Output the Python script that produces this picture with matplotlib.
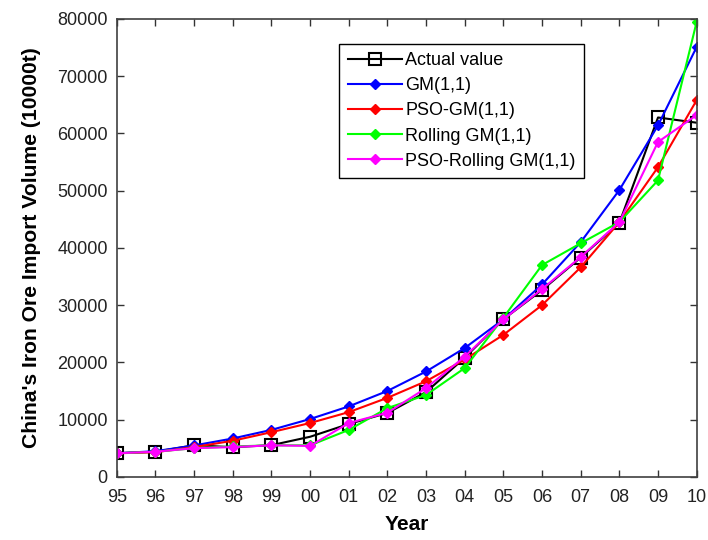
import matplotlib
matplotlib.use("Agg")
import matplotlib.pyplot as plt

plt.rcParams['font.family'] = ['Liberation Sans', 'DejaVu Sans']

years = ['95', '96', '97', '98', '99', '00', '01', '02', '03', '04',
         '05', '06', '07', '08', '09', '10']

actual = [4115, 4387, 5511, 5177, 5527, 6997, 9230, 11149, 14813, 20808,
          27526, 32630, 38309, 44356, 62778, 61863]
gm = [4115, 4480, 5480, 6700, 8200, 10100, 12300, 15000, 18400, 22500,
      27500, 33600, 41000, 50100, 61400, 75100]
pso_gm = [4115, 4300, 5200, 6300, 7800, 9400, 11300, 13800, 16700, 20500,
          24800, 30000, 36600, 44500, 54100, 65800]
rolling_gm = [4115, 4387, 5000, 5300, 5500, 5500, 8200, 12000, 14300, 19000,
              27800, 37000, 40800, 44500, 51800, 79500]
pso_rolling_gm = [4115, 4387, 5000, 5200, 5500, 5400, 9400, 11200, 15500, 21000,
                  27500, 32800, 38400, 44500, 58500, 63200]

x = list(range(len(years)))

fig = plt.figure(figsize=(7.08, 5.40), dpi=100)
ax = fig.add_axes([0.165, 0.117, 0.819, 0.848])

ax.plot(x, actual, color='black', lw=1.5, marker='s', ms=8.5,
        mfc='none', mec='black', mew=1.5, label='Actual value')
ax.plot(x, gm, color='#0000ff', lw=1.5, marker='D', ms=5,
        mfc='#0000ff', mec='#0000ff', label='GM(1,1)')
ax.plot(x, pso_gm, color='#ff0000', lw=1.5, marker='D', ms=5,
        mfc='#ff0000', mec='#ff0000', label='PSO-GM(1,1)')
ax.plot(x, rolling_gm, color='#00ff00', lw=1.5, marker='D', ms=5,
        mfc='#00ff00', mec='#00ff00', label='Rolling GM(1,1)')
ax.plot(x, pso_rolling_gm, color='#ff00ff', lw=1.5, marker='D', ms=5,
        mfc='#ff00ff', mec='#ff00ff', label='PSO-Rolling GM(1,1)')

ax.set_xlim(0, len(years) - 1)
ax.set_ylim(0, 80000)
ax.set_xticks(x)
ax.set_xticklabels(years)
ax.set_yticks(range(0, 80001, 10000))

ax.tick_params(direction='in', length=5, width=1, labelsize=13,
               top=True, right=True, colors='#333333', labelcolor='#222222')
ax.tick_params(axis='x', pad=8.5)
ax.tick_params(axis='y', pad=6.5)
for s in ax.spines.values():
    s.set_color('#404040')
    s.set_linewidth(1.2)

ax.set_xlabel('Year', fontsize=15, fontweight='bold', labelpad=7)
ax.set_ylabel("China's Iron Ore Import Volume (10000t)", fontsize=15.2,
              fontweight='bold', labelpad=12)

leg = ax.legend(loc='upper left', bbox_to_anchor=(0.384, 0.945), fontsize=13,
                frameon=True, fancybox=False, edgecolor='black', framealpha=1,
                handlelength=3.0, handletextpad=0.2, labelspacing=0.45,
                borderpad=0.45, borderaxespad=0)
leg.get_frame().set_linewidth(1.0)

fig.savefig('out.png', dpi=100)
